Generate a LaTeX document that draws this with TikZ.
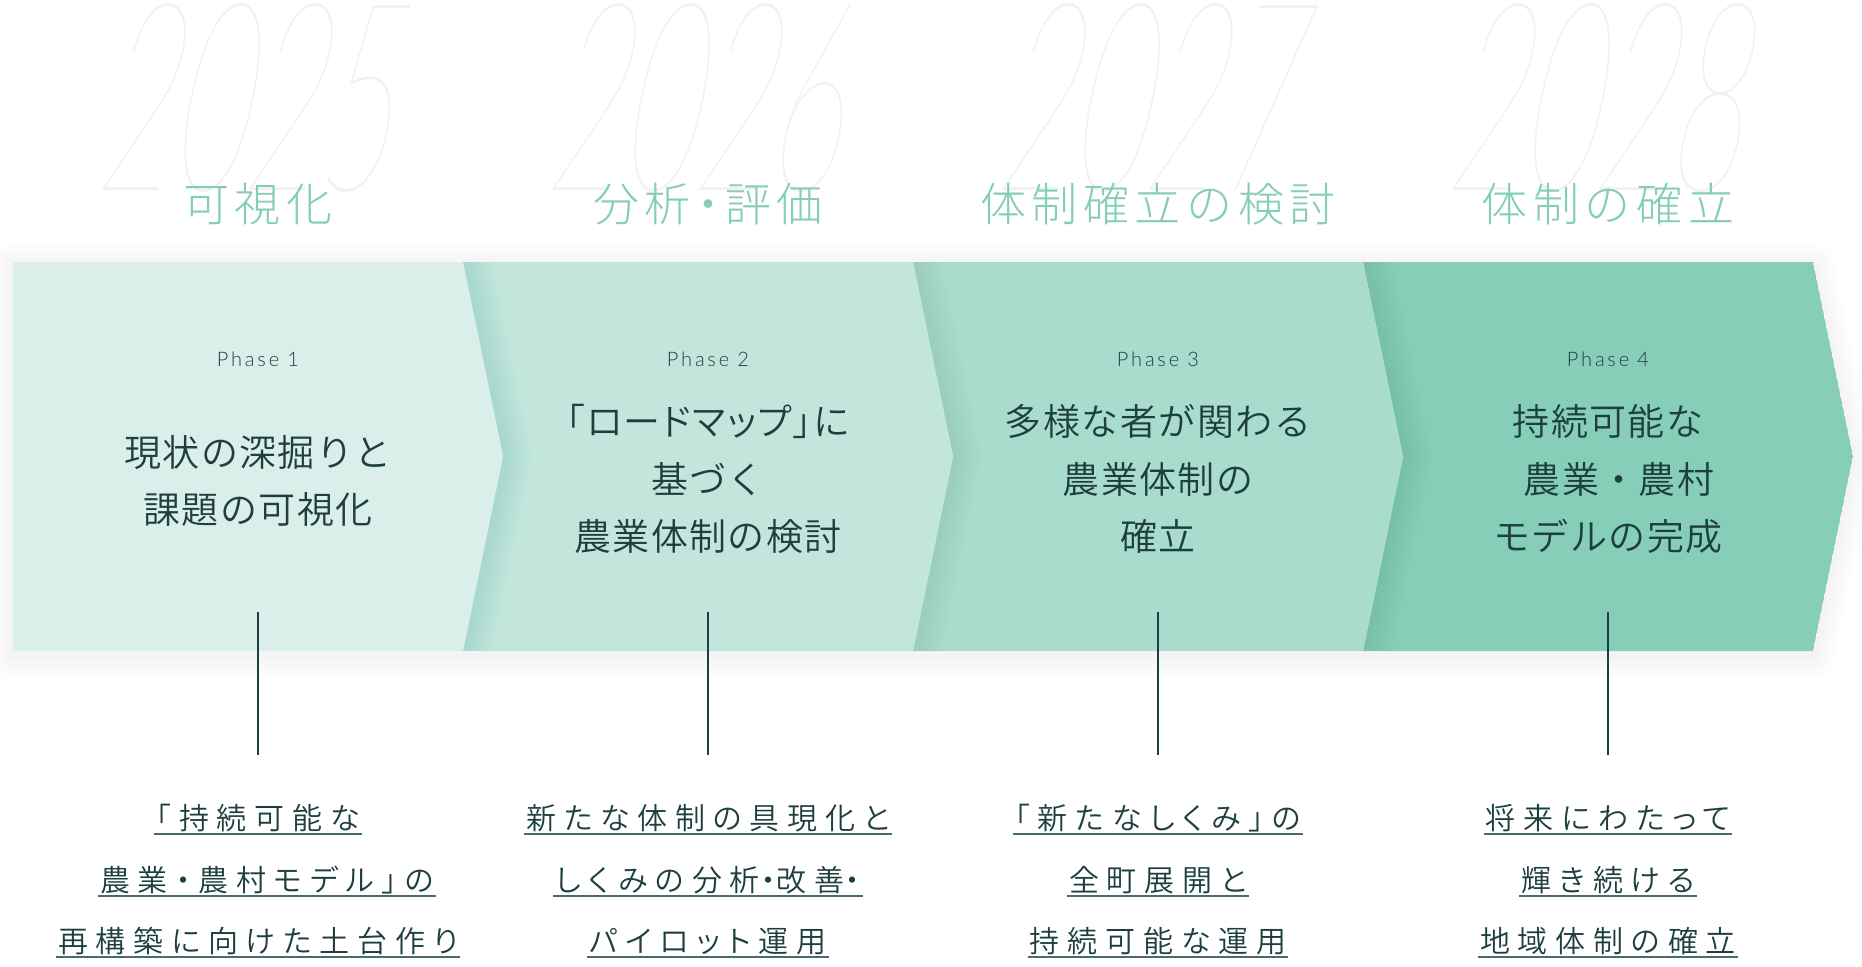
\documentclass[tikz,border=0pt]{standalone}
\usepackage{fontspec}
\setmainfont{Lato}
\IfFontExistsTF{Lato Hairline}{\newfontfamily\yearfont{Lato Hairline}}{%
  \IfFontExistsTF{Lato Thin}{\newfontfamily\yearfont{Lato Thin}}{\newfontfamily\yearfont{Lato}}}
\IfFontExistsTF{Lato Light}{\newfontfamily\phasefont{Lato Light}}{\newfontfamily\phasefont{Lato}}
\IfFontExistsTF{Noto Sans CJK JP DemiLight}{%
  \newfontfamily\cjk{Noto Sans CJK JP DemiLight}%
  \newfontfamily\cjkp[RawFeature=+palt]{Noto Sans CJK JP DemiLight}}{%
  \newfontfamily\cjk{Noto Sans CJK JP}%
  \newfontfamily\cjkp[RawFeature=+palt]{Noto Sans CJK JP}}
\IfFontExistsTF{Noto Sans CJK JP Light}{\newfontfamily\cjkl{Noto Sans CJK JP Light}}{\newfontfamily\cjkl{Noto Sans CJK JP}}
\newcommand\hdot[1][.55em]{\makebox[#1][c]{・}}
\definecolor{ink}{HTML}{1E3F3F}
\definecolor{uline}{HTML}{4A6B6B}
\definecolor{head}{HTML}{84CDB6}
\definecolor{yr}{HTML}{F1F1F1}
\definecolor{cA}{HTML}{DBEFEA}
\definecolor{cB}{HTML}{C3E6DC}
\definecolor{cC}{HTML}{AADCCE}
\definecolor{cD}{HTML}{87CEB8}
\definecolor{shd}{HTML}{2F7D68}
\tikzset{
  yearlbl/.style={anchor=base, inner sep=0pt, text=yr, font=\yearfont\fontsize{264bp}{264bp}\selectfont, xslant=0.2, xscale=0.48},
  headlbl/.style={anchor=base, inner sep=0pt, text=head, font=\cjkl\fontsize{46bp}{46bp}\selectfont\addfontfeature{LetterSpace=12}},
  phaselbl/.style={anchor=base, inner sep=0pt, text=ink, font=\phasefont\fontsize{20bp}{20bp}\selectfont\addfontfeature{LetterSpace=14}},
  mainlbl/.style={anchor=base, inner sep=0pt, text=ink, font=\cjk\fontsize{37bp}{37bp}\selectfont\addfontfeature{LetterSpace=4}},
  mainlblp/.style={anchor=base, inner sep=0pt, text=ink, font=\cjkp\fontsize{37bp}{37bp}\selectfont\addfontfeature{LetterSpace=4}},
  botlbl/.style={anchor=base, inner ysep=0pt, inner xsep=2bp, text=ink, font=\cjkp\fontsize{30bp}{30bp}\selectfont\addfontfeature{LetterSpace=26}},
  stem/.style={draw=ink, line width=2bp},
  uln/.style={draw=uline, line width=1.2bp},
  bandshadow/.style={line join=round, draw=black, opacity=0.0055},
  notchshadow/.style={line join=round, line cap=round, draw=shd, opacity=0.0065},
}
\begin{document}
\begin{tikzpicture}[x=1bp,y=-1bp]
\useasboundingbox (0,0) rectangle (1862,966);
\fill[white] (0,0) rectangle (1862,966);

% ---- years (background) ----
\foreach \cx/\yy/\nm in {258/2025/ya, 708/2026/yb, 1158/2027/yc, 1608/2028/yd}{
  \begin{scope}[shift={(\cx-17,190)}]
    \node[yearlbl] (\nm) at (0,0) {\yy};
  \end{scope}
}

% ---- headings ----
\node[headlbl] (h1) at (258,221) {可視化};
\node[headlbl] (h2) at (708,221) {分析\hdot[.75em]評価};
\node[headlbl] (h3) at (1158,221) {体制確立の検討};
\node[headlbl] (h4) at (1608,221) {体制の確立};

% ---- band shadow ----
\foreach \w in {2,6,...,46}{
  \draw[bandshadow, line width=\w bp] (13,266) -- (1813,266) -- (1853,460.5) -- (1813,656) -- (13,656) -- cycle;
}

% ---- chevrons ----
\begin{scope}
  \clip (13,262) -- (1813,262) -- (1853,456.5) -- (1813,651) -- (13,651) -- cycle;
  \fill[cD] (1363,262) -- (1813,262) -- (1853,456.5) -- (1813,651) -- (1363,651) -- (1403,456.5) -- cycle;
  \foreach \w in {4,8,...,56}{
    \draw[notchshadow, line width=\w bp] (1365,262) -- (1405,456.5) -- (1365,651);
  }
  \fill[cC] (913,262) -- (1363,262) -- (1403,456.5) -- (1363,651) -- (913,651) -- (953,456.5) -- cycle;
  \foreach \w in {4,8,...,56}{
    \draw[notchshadow, line width=\w bp] (915,262) -- (955,456.5) -- (915,651);
  }
  \fill[cB] (463,262) -- (913,262) -- (953,456.5) -- (913,651) -- (463,651) -- (503,456.5) -- cycle;
  \foreach \w in {4,8,...,56}{
    \draw[notchshadow, line width=\w bp] (465,262) -- (505,456.5) -- (465,651);
  }
  \fill[cA] (13,262) -- (463,262) -- (503,456.5) -- (463,651) -- (13,651) -- cycle;
\end{scope}

% ---- phase labels ----
\node[phaselbl] (p1) at (258,366) {Phase 1};
\node[phaselbl] (p2) at (708,366) {Phase 2};
\node[phaselbl] (p3) at (1158,366) {Phase 3};
\node[phaselbl] (p4) at (1608,366) {Phase 4};

% ---- main texts ----
\node[mainlbl] (m1a) at (258,466) {現状の深掘りと};
\node[mainlbl] (m1b) at (258,523) {課題の可視化};

\node[mainlblp] (m2a) at (708,435) {「ロードマップ」に};
\node[mainlbl] (m2b) at (708,493) {基づく};
\node[mainlbl] (m2c) at (708,550) {農業体制の検討};

\node[mainlbl] (m3a) at (1158,435) {多様な者が関わる};
\node[mainlbl] (m3b) at (1158,493) {農業体制の};
\node[mainlbl] (m3c) at (1158,550) {確立};

\node[mainlbl] (m4a) at (1608,435) {持続可能な};
\node[mainlbl] (m4b) at (1619,493) {農業・農村};
\node[mainlbl] (m4c) at (1608,550) {モデルの完成};

% ---- stems ----
\foreach \cx/\nm in {258/1, 708/2, 1158/3, 1608/4}{
  \coordinate (s\nm a) at (\cx,612);
  \coordinate (s\nm b) at (\cx,755);
  \draw[stem] (s\nm a) -- (s\nm b);
}

% ---- bottom texts ----
\node[botlbl] (b1a) at (258,829) {「持続可能な};
\node[botlbl] (b1b) at (267,891) {農業・農村モデル」の};
\node[botlbl] (b1c) at (258,952) {再構築に向けた土台作り};

\node[botlbl] (b2a) at (708,829) {新たな体制の具現化と};
\node[botlbl] (b2b) at (708,891) {しくみの分析\hdot 改善\hdot};
\node[botlbl] (b2c) at (708,952) {パイロット運用};

\node[botlbl] (b3a) at (1158,829) {「新たなしくみ」の};
\node[botlbl] (b3b) at (1158,891) {全町展開と};
\node[botlbl] (b3c) at (1158,952) {持続可能な運用};

\node[botlbl] (b4a) at (1608,829) {将来にわたって};
\node[botlbl] (b4b) at (1608,891) {輝き続ける};
\node[botlbl] (b4c) at (1608,952) {地域体制の確立};

\foreach \nm in {b1a,b1b,b1c,b2a,b2b,b2c,b3a,b3b,b3c,b4a,b4b,b4c}{
  \draw[uln] ([yshift=-5bp]\nm.base west) -- ([yshift=-5bp]\nm.base east);
}
\end{tikzpicture}
\end{document}
